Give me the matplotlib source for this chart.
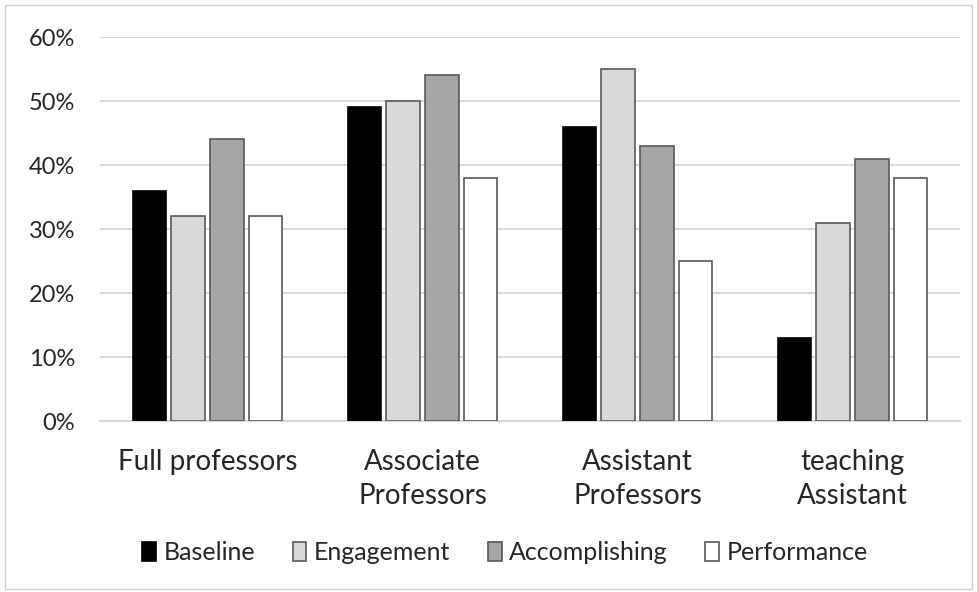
import numpy as np
import matplotlib.pyplot as plt
from matplotlib.patches import Rectangle

categories = ['Full professors', 'Associate\nProfessors', 'Assistant\nProfessors', 'teaching\nAssistant']
series = ['Baseline', 'Engagement', 'Accomplishing', 'Performance']
baseline = [36, 49, 46, 13]
engagement = [32, 50, 55, 31]
accomplishing = [44, 54, 43, 41]
performance = [32, 38, 25, 38]
values = [baseline, engagement, accomplishing, performance]
colors = ['#000000', '#d9d9d9', '#a6a6a6', '#ffffff']

plt.rcParams['font.family'] = ['Lato', 'DejaVu Sans']

fig = plt.figure(figsize=(9.77, 5.92), dpi=100)
ax = fig.add_axes([100 / 977, 1 - 421 / 592, 860 / 977, 384 / 592])

index = np.arange(len(categories))
bar_width = 0.155
step = 0.18
for i, (name, vals, col) in enumerate(zip(series, values, colors)):
    ax.bar(index + (i - 1.5) * step, vals, bar_width, color=col,
           edgecolor='#000000' if i == 0 else '#595959', linewidth=1.2,
           label=name, zorder=3)

ax.set_xlim(-0.5, len(categories) - 0.5)
ax.set_ylim(0, 60)
ax.set_yticks(np.arange(0, 61, 10))
ax.set_yticklabels([f'{v}%' for v in range(0, 61, 10)], fontsize=17, color='#262626')
ax.set_xticks(index)
ax.set_xticklabels(categories, fontsize=20, color='#262626', linespacing=1.38)
ax.tick_params(axis='both', length=0)
ax.tick_params(axis='x', pad=20)
ax.tick_params(axis='y', pad=18)
ax.grid(axis='y', color='#d9d9d9', linewidth=1.5, zorder=0)
for s in ['top', 'right', 'left']:
    ax.spines[s].set_visible(False)
ax.spines['bottom'].set_color('#d9d9d9')
ax.spines['bottom'].set_linewidth(1.5)

leg = fig.legend(loc='center', bbox_to_anchor=(505 / 977, 1 - 553 / 592), ncol=4,
                 frameon=False, fontsize=18, handlelength=0.55, handleheight=0.8,
                 handletextpad=0.3, columnspacing=1.5)
for t in leg.get_texts():
    t.set_color('#262626')

fig.patches.append(Rectangle((5 / 977, 3 / 592), 967 / 977, 584 / 592, transform=fig.transFigure,
                             fill=False, edgecolor='#d0d0d0', linewidth=1))

fig.savefig('out.png', dpi=100)
